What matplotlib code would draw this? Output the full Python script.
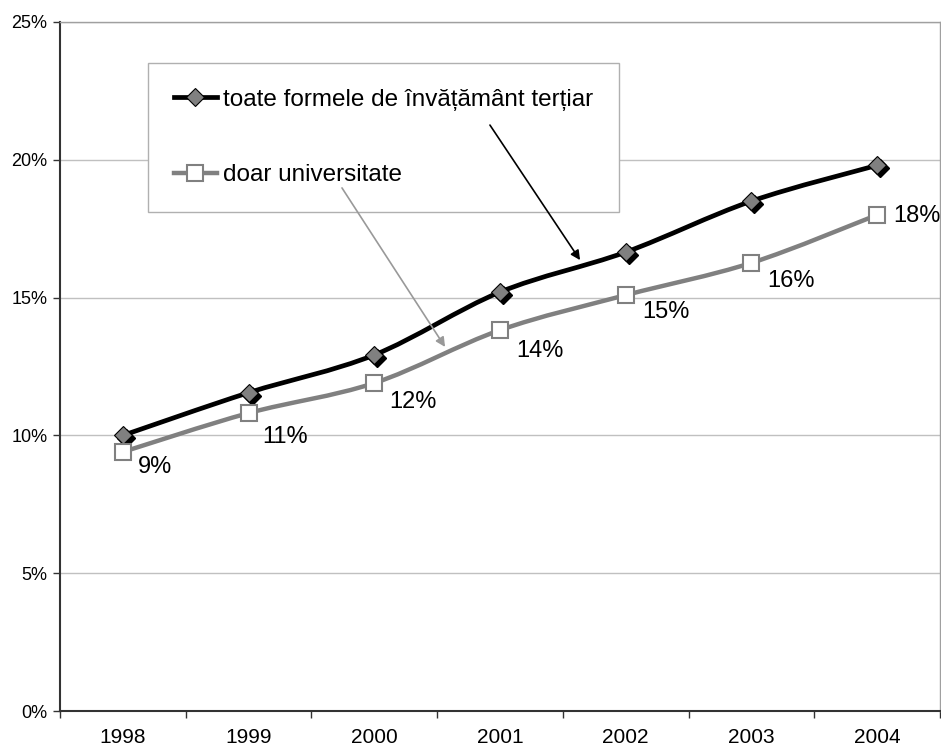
import matplotlib

matplotlib.use("Agg")
import matplotlib.pyplot as plt
import numpy as np
from matplotlib.lines import Line2D
from matplotlib.path import Path
from matplotlib.patches import PathPatch
from matplotlib.transforms import ScaledTranslation
from matplotlib.ticker import FixedLocator, FuncFormatter

plt.rcParams["font.family"] = ["Liberation Sans", "DejaVu Sans"]

years = ["1998", "1999", "2000", "2001", "2002", "2003", "2004"]
tertiary_all = [10.0, 11.55, 12.92, 15.2, 16.65, 18.5, 19.8]
university_only = [9.4, 10.81, 11.9, 13.82, 15.09, 16.26, 18.0]
university_labels = ["9%", "11%", "12%", "14%", "15%", "16%", "18%"]

label_all = "toate formele de învățământ terțiar"
label_univ = "doar universitate"

# label offsets in pixels (right, down) from each square marker
label_offsets = [(32, 15), (36, 24), (39, 19), (40, 21), (40, 17), (40, 18), (40, 1)]

BLACK = "#000000"
GREY = "#808080"


def smooth_path(xs, ys):
    """Bezier path through the points, similar to a spreadsheet smoothed line."""
    pts = np.column_stack([xs, ys]).astype(float)
    verts = [pts[0]]
    codes = [Path.MOVETO]
    n = len(pts)
    for i in range(n - 1):
        p0 = pts[max(i - 1, 0)]
        p1 = pts[i]
        p2 = pts[i + 1]
        p3 = pts[min(i + 2, n - 1)]
        c1 = p1 + (p2 - p0) / 6.0
        c2 = p2 - (p3 - p1) / 6.0
        verts += [c1, c2, p2]
        codes += [Path.CURVE4] * 3
    return Path(verts, codes)


fig = plt.figure(figsize=(9.41, 7.49), dpi=100)
ax = fig.add_axes([60 / 941, 1 - 711 / 749, 880 / 941, 689 / 749])

x = np.arange(len(years))
ax.set_xlim(-0.5, len(years) - 0.5)
ax.set_ylim(0, 25)

ax.yaxis.set_major_locator(FixedLocator([0, 5, 10, 15, 20, 25]))
ax.yaxis.set_major_formatter(FuncFormatter(lambda v, _: f"{v:.0f}%"))
ax.yaxis.grid(True, color="#c0c0c0", linewidth=1.0)
ax.set_axisbelow(True)

ax.set_xticks(np.arange(len(years) + 1) - 0.5)
ax.set_xticklabels([])
ax.set_xticks(x, minor=True)
ax.set_xticklabels(years, minor=True, fontsize=15)
ax.tick_params(axis="x", which="minor", length=0, pad=12)
ax.tick_params(axis="x", which="major", length=5, width=1, color="#333333")
ax.tick_params(axis="y", length=5, width=1, color="#333333", labelsize=13, pad=4)

for side in ("left", "bottom"):
    ax.spines[side].set_color("#333333")
    ax.spines[side].set_linewidth(1.5)
ax.spines["top"].set_color("#a0a0a0")
ax.spines["right"].set_color("#a0a0a0")
ax.spines["top"].set_linewidth(1.0)
ax.spines["right"].set_linewidth(1.0)

# smoothed lines
ax.add_patch(PathPatch(smooth_path(x, university_only), fill=False,
                       edgecolor=GREY, linewidth=3.2, zorder=3))
ax.add_patch(PathPatch(smooth_path(x, tertiary_all), fill=False,
                       edgecolor=BLACK, linewidth=3.4, zorder=4))

# diamond markers with a dark drop shadow
shadow = ax.transData + ScaledTranslation(2.2 / 72, -2.2 / 72, fig.dpi_scale_trans)
ax.plot(x, tertiary_all, linestyle="none", marker="D", markersize=9,
        markerfacecolor=BLACK, markeredgecolor=BLACK, transform=shadow, zorder=5)
ax.plot(x, tertiary_all, linestyle="none", marker="D", markersize=9,
        markerfacecolor=GREY, markeredgecolor=BLACK, markeredgewidth=0.8, zorder=6)

ax.plot(x, university_only, linestyle="none", marker="s", markersize=11.5,
        markerfacecolor="white", markeredgecolor=GREY, markeredgewidth=1.5, zorder=6)

for xi, yi, text, (dx, dy) in zip(x, university_only, university_labels, label_offsets):
    ax.annotate(text, (xi, yi), xytext=(dx * 0.72, -dy * 0.72),
                textcoords="offset points", ha="center", va="center",
                fontsize=17, zorder=7)

handles = [
    Line2D([], [], color=BLACK, linewidth=3.4, marker="D", markersize=9,
           markerfacecolor=GREY, markeredgecolor=BLACK, markeredgewidth=0.8),
    Line2D([], [], color=GREY, linewidth=3.2, marker="s", markersize=11.5,
           markerfacecolor="white", markeredgecolor=GREY, markeredgewidth=1.5),
]
leg = ax.legend(handles, [label_all, label_univ], loc="upper left",
                bbox_to_anchor=(148 / 941, 1 - 63 / 749),
                bbox_transform=fig.transFigure, fontsize=17.5, frameon=True,
                fancybox=False, edgecolor="#b0b0b0", framealpha=1.0,
                borderpad=1.05, labelspacing=2.2, handlelength=1.8,
                handletextpad=0.25, borderaxespad=0)
leg.get_frame().set_linewidth(1.0)
leg.set_zorder(8)

# callout arrows from the legend entries to their lines
ax.annotate("", xy=(3.637, 16.36), xytext=(2.92, 21.26),
            arrowprops=dict(arrowstyle="-|>", color=BLACK, lw=1.2,
                            mutation_scale=14, shrinkA=0, shrinkB=0), zorder=9)
ax.annotate("", xy=(2.563, 13.21), xytext=(1.743, 18.98),
            arrowprops=dict(arrowstyle="-|>", color="#999999", lw=1.2,
                            mutation_scale=14, shrinkA=0, shrinkB=0), zorder=9)

fig.savefig("out.png", dpi=100)
